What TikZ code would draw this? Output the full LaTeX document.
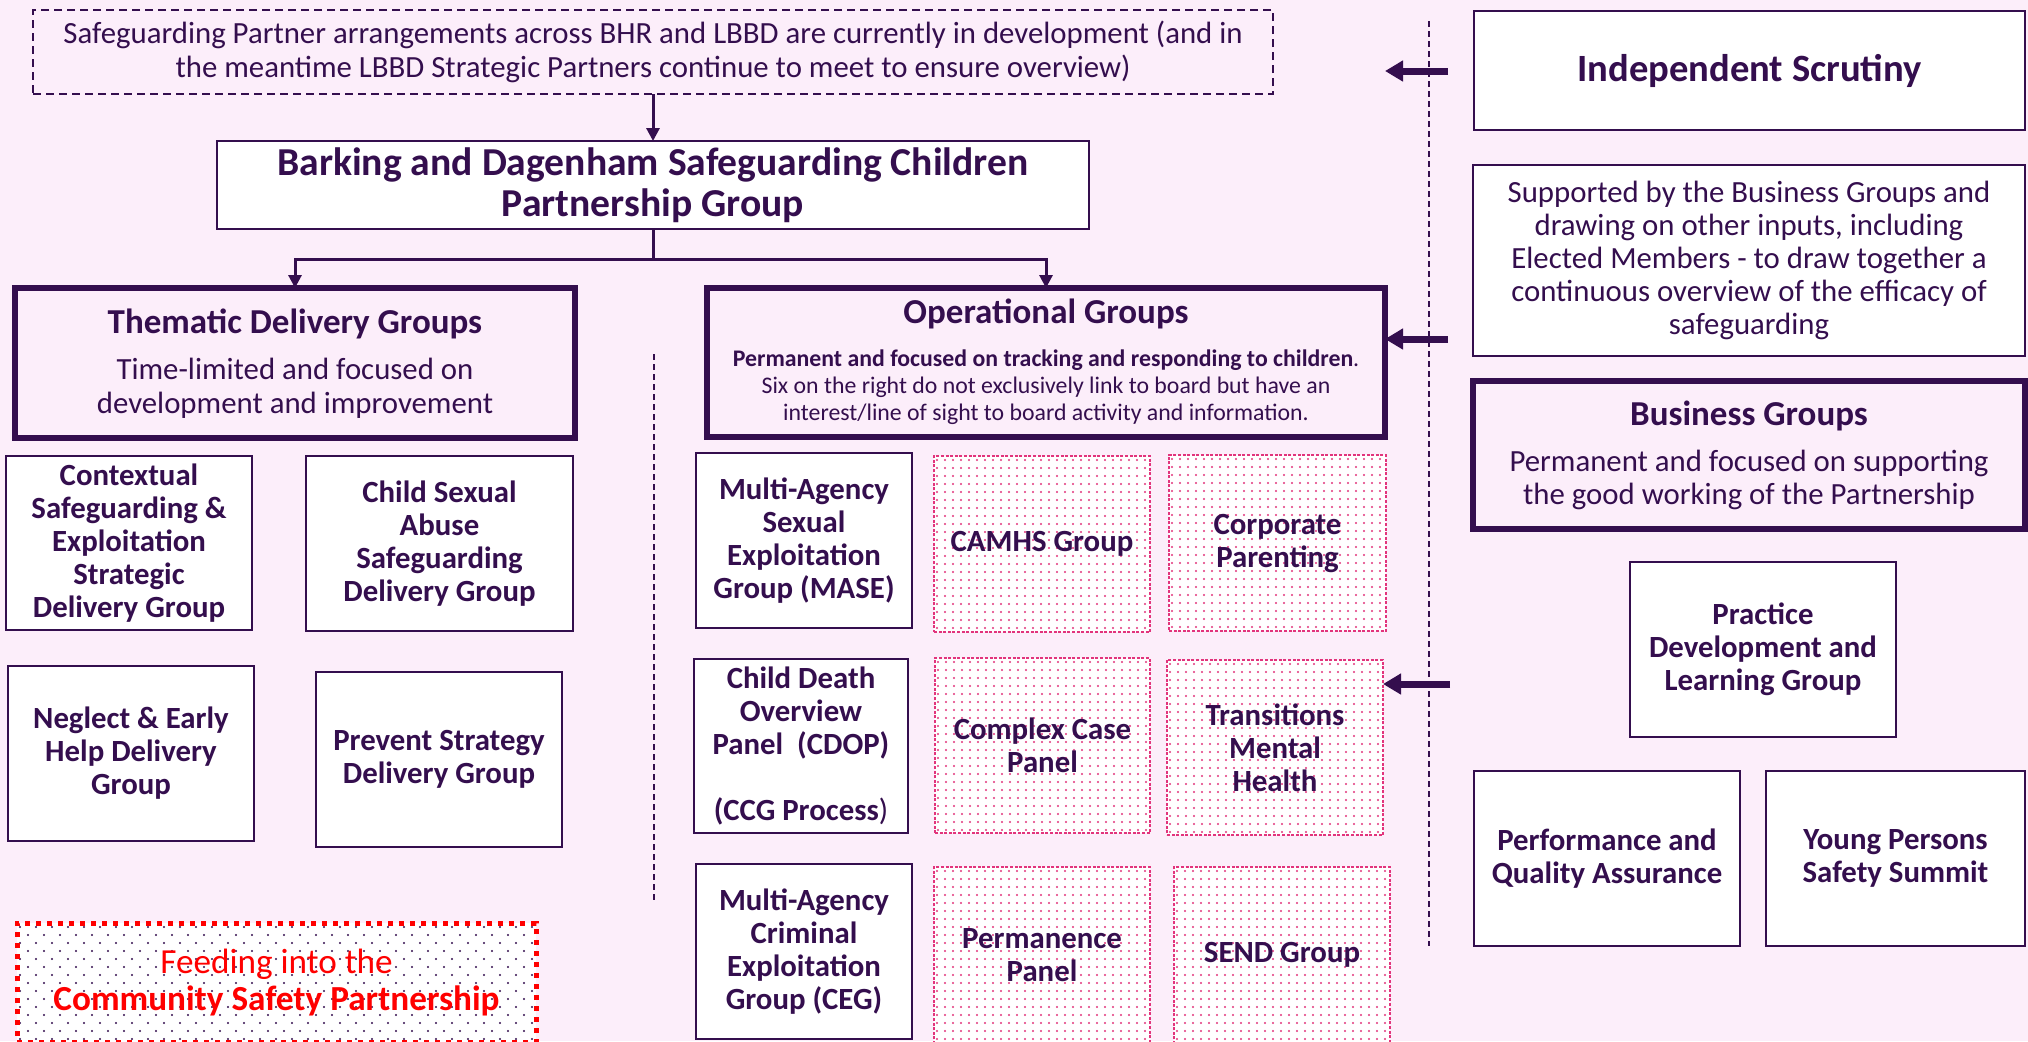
\documentclass[tikz,border=0pt]{standalone}
\usepackage{fontspec}
\setmainfont{Carlito}
\usetikzlibrary{arrows.meta}
\definecolor{bg}{RGB}{252,238,250}
\definecolor{pp}{RGB}{52,14,78}
\definecolor{pk}{RGB}{226,52,124}
\definecolor{rd}{RGB}{255,0,0}
\newcommand\myfs[2]{\fontsize{#1}{#2}\selectfont}
% name, x1, y1, x2, y2, style, text
\newcommand\bx[7]{%
  \pgfmathsetmacro\bxw{abs(#4-#2)*0.5}%
  \pgfmathsetmacro\bxh{abs(#5-#3)*0.5}%
  \node[#6, minimum width=\bxw pt, minimum height=\bxh pt] (#1) at ({(#2+#4)/2},{(#3+#5)/2}) {#7};}
% x1, y1, x2, y2, dx, dy, colour, row offset
\newcommand\dotgrid[8]{%
 \begin{scope}
  \fill[white] (#1,#2) rectangle (#3,#4);
  \clip (#1,#2) rectangle (#3,#4);
  \pgfmathtruncatemacro\dgnc{(#3-#1)/#5+1}%
  \pgfmathtruncatemacro\dgnr{(#4-#2)/#6+1}%
  \foreach \dgr in {0,...,\dgnr}{%
    \pgfmathsetmacro\dgoff{mod(\dgr,2)*#8}%
    \foreach \dgc in {0,...,\dgnc}{%
      \fill[#7] ({#1+\dgoff+#5*\dgc+3},{#2+#6*\dgr+4}) circle[radius=0.6pt];
    }}
 \end{scope}}
\tikzset{
  base/.style={inner sep=0pt, outer sep=0pt, align=center, text=pp},
  tbox/.style={base, draw=pp, line width=1pt, dash pattern=on 4pt off 2.5pt, font=\myfs{15.4}{16.8}},
  wbox/.style={base, draw=pp, line width=1.1pt, fill=white, font=\bfseries\myfs{15.4}{16.5}},
  kbox/.style={base, draw=pp, line width=3pt},
  pbox/.style={base, draw=pk, line width=1pt, dash pattern=on 1.5pt off 0.8pt, font=\bfseries\myfs{15.4}{16.5}},
  rbox/.style={base, draw=rd, line width=2.5pt, dash pattern=on 2.5pt off 3pt, text=rd, font=\myfs{17.6}{18.5}},
  ttl/.style={base, font=\bfseries\myfs{17.5}{18}},
  sub/.style={base, font=\myfs{15.4}{16.8}},
  desc/.style={base, font=\myfs{11.9}{13.5}},
  conn/.style={draw=pp, line width=1.5pt},
  connarrow/.style={conn, -{Triangle[length=6.5pt,width=6.5pt]}},
  bigarrow/.style={draw=pp, line width=3.5pt, -{Triangle[length=9pt,width=10pt]}},
  vdash/.style={draw=pp, line width=0.6pt, dash pattern=on 3pt off 2pt}
}
\begin{document}
\begin{tikzpicture}[x=0.5pt,y=-0.5pt]
\useasboundingbox (0,0) rectangle (2028,1041);
\fill[bg] (0,0) rectangle (2028,1041);

% dashed separators
\draw[vdash] (654,354) -- (654,902);
\draw[vdash] (1429,21) -- (1429,946);

% top
\bx{top}{33}{10}{1273}{94}{tbox}{Safeguarding Partner arrangements across BHR and LBBD are currently in development (and in\\the meantime LBBD Strategic Partners continue to meet to ensure overview)}
\bx{bdscp}{217}{141}{1089}{229}{wbox,font=\bfseries\myfs{19.8}{20.5}}{Barking and Dagenham Safeguarding Children\\Partnership Group}

% group headers
\bx{them}{15}{288}{575}{438}{kbox}{}
\node[ttl] (themt) at (295,324) {Thematic Delivery Groups};
\node[sub] (thems) at (295,388) {Time-limited and focused on\\development and improvement};

\bx{op}{707}{288}{1385}{437}{kbox}{}
\node[ttl] (opt) at (1046,314) {Operational Groups};
\node[desc] (ops) at (1046,387) {\textbf{Permanent and focused on tracking and responding to children}.\\Six on the right do not exclusively link to board but have an\\interest/line of sight to board activity and information.};

% thematic groups
\bx{ctx}{6}{456}{252}{630}{wbox}{Contextual\\Safeguarding \&\\Exploitation\\Strategic\\Delivery Group}
\bx{csa}{306}{456}{573}{631}{wbox}{Child Sexual\\Abuse\\Safeguarding\\Delivery Group}
\bx{neg}{8}{666}{254}{841}{wbox}{Neglect \& Early\\Help Delivery\\Group}
\bx{prev}{316}{672}{562}{847}{wbox}{Prevent Strategy\\Delivery Group}

% operational groups
\bx{mase}{696}{453}{912}{628}{wbox}{Multi-Agency\\Sexual\\Exploitation\\Group (MASE)}
\bx{cdop}{694}{659}{908}{833}{wbox}{Child Death\\Overview\\Panel~~(CDOP)\\\mbox{}\\(CCG Process\textmd{)}}
\bx{ceg}{696}{864}{912}{1039}{wbox}{Multi-Agency\\Criminal\\Exploitation\\Group (CEG)}

\dotgrid{934}{456}{1150}{632}{8}{8}{pk}{0}
\bx{camhs}{934}{456}{1150}{632}{pbox}{CAMHS Group}
\dotgrid{1169}{455}{1386}{631}{8}{8}{pk}{0}
\bx{corp}{1169}{455}{1386}{631}{pbox}{Corporate\\Parenting}
\dotgrid{935}{658}{1150}{833}{8}{8}{pk}{0}
\bx{cplx}{935}{658}{1150}{833}{pbox}{Complex Case\\Panel}
\dotgrid{1167}{660}{1383}{835}{8}{8}{pk}{0}
\bx{trans}{1167}{660}{1383}{835}{pbox}{Transitions\\Mental\\Health}
\dotgrid{934}{867}{1150}{1043}{8}{8}{pk}{0}
\bx{perm}{934}{867}{1150}{1043}{pbox}{Permanence\\Panel}
\dotgrid{1174}{867}{1390}{1043}{8}{8}{pk}{0}
\bx{send}{1174}{867}{1390}{1043}{pbox}{SEND Group}

% community safety
\dotgrid{17}{923}{536}{1042}{16}{8}{pp}{8}
\bx{csp}{17}{923}{536}{1042}{rbox}{Feeding into the\\\textbf{Community Safety Partnership}}

% right column
\bx{indep}{1474}{11}{2025}{130}{wbox,font=\bfseries\myfs{19.3}{21}}{Independent Scrutiny}
\bx{supp}{1473}{165}{2025}{356}{wbox,font=\myfs{15.4}{16.5}}{Supported by the Business Groups and\\drawing on other inputs, including\\Elected Members - to draw together a\\continuous overview of the efficacy of\\safeguarding}
\bx{bus}{1473}{381}{2025}{529}{kbox}{}
\node[ttl] (bust) at (1749,416) {Business Groups};
\node[sub] (buss) at (1749,480) {Permanent and focused on supporting\\the good working of the Partnership};
\bx{prac}{1630}{562}{1896}{737}{wbox}{Practice\\Development and\\Learning Group}
\bx{perf}{1474}{771}{1740}{946}{wbox}{Performance and\\Quality Assurance}
\bx{yps}{1766}{771}{2025}{946}{wbox}{Young Persons\\Safety Summit}

% connectors
\draw[connarrow] (top.south) -- (bdscp.north);
\coordinate (fork) at (653,259);
\draw[conn] (bdscp.south) -- (fork);
\draw[connarrow] (fork) -| (them.north);
\draw[connarrow] (fork) -| (op.north);

\coordinate (a1s) at (1448,71);
\coordinate (a1e) at (1385,71);
\draw[bigarrow] (a1s) -- (a1e);
\coordinate (a2s) at (1448,339);
\draw[bigarrow] (a2s) -- (a2s -| op.east);
\coordinate (a3s) at (1450,684);
\draw[bigarrow] (a3s) -- (a3s -| trans.east);
\end{tikzpicture}
\end{document}
